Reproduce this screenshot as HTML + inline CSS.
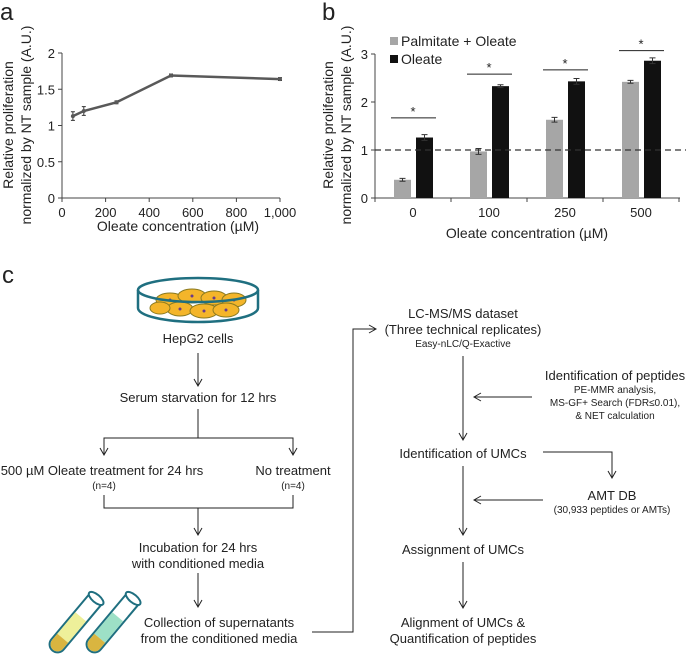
<!DOCTYPE html>
<html><head><meta charset="utf-8">
<style>
html,body{margin:0;padding:0;background:#fff;}
svg{display:block;font-family:"Liberation Sans",Arial,sans-serif;}
</style></head>
<body>
<svg id="fig" width="686" height="660" viewBox="0 0 686 660">
<g>
  <text x="0" y="20" font-size="24" fill="#222">a</text>
  <text transform="translate(13,125) rotate(-90)" text-anchor="middle" font-size="14" fill="#222">Relative proliferation</text>
  <text transform="translate(31,125) rotate(-90)" text-anchor="middle" font-size="14" fill="#222">normalized by NT sample (A.U.)</text>
  <text x="178" y="231" text-anchor="middle" font-size="14" fill="#222">Oleate concentration (µM)</text>
  <g id="chartA"></g>
</g>
<g>
  <text x="322" y="20" font-size="24" fill="#222">b</text>
  <text transform="translate(333,125) rotate(-90)" text-anchor="middle" font-size="14" fill="#222">Relative proliferation</text>
  <text transform="translate(351,125) rotate(-90)" text-anchor="middle" font-size="14" fill="#222">normalized by NT sample (A.U.)</text>
  <text x="527" y="238" text-anchor="middle" font-size="14" fill="#222">Oleate concentration (µM)</text>
  <rect x="390" y="37" width="8" height="8" fill="#a6a6a6"/>
  <text x="401" y="46" font-size="14" fill="#222">Palmitate + Oleate</text>
  <rect x="390" y="55" width="8" height="8" fill="#111"/>
  <text x="401" y="64" font-size="14" fill="#222">Oleate</text>
  <g id="chartB"></g>
</g>
<g font-size="13" fill="#222" stroke="none">
  <defs>
    <marker id="ah" markerWidth="10" markerHeight="10" refX="8" refY="5" orient="auto" markerUnits="userSpaceOnUse">
      <path d="M1,1 L8,5 L1,9" fill="none" stroke="#222" stroke-width="1"/>
    </marker>
  </defs>
  <text x="2" y="283" font-size="24">c</text>
  <g>
    <path d="M138,290 L138,308 A60,14 0 0 0 258,308 L258,290" fill="#fff" stroke="#1f6f80" stroke-width="2.5"/>
    <g stroke="#8a7a20" stroke-width="1" fill="#f4b52a">
      <ellipse cx="170" cy="300" rx="14" ry="7"/><ellipse cx="192" cy="296" rx="14" ry="7"/>
      <ellipse cx="214" cy="298" rx="13" ry="7"/><ellipse cx="234" cy="300" rx="12" ry="7"/>
      <ellipse cx="180" cy="309" rx="13" ry="7"/><ellipse cx="204" cy="311" rx="14" ry="7"/>
      <ellipse cx="226" cy="310" rx="13" ry="7"/><ellipse cx="160" cy="308" rx="10" ry="6"/>
    </g>
    <g fill="#6a3a8a">
      <circle cx="170" cy="300" r="1.5"/><circle cx="192" cy="296" r="1.5"/><circle cx="214" cy="298" r="1.5"/>
      <circle cx="234" cy="300" r="1.5"/><circle cx="180" cy="309" r="1.5"/><circle cx="204" cy="311" r="1.5"/><circle cx="226" cy="310" r="1.5"/>
    </g>
    <ellipse cx="198" cy="290" rx="60" ry="12" fill="none" stroke="#1f6f80" stroke-width="2.5"/>
  </g>
  <text x="198" y="343" text-anchor="middle">HepG2 cells</text>
  <g stroke="#222" stroke-width="1" fill="none">
    <line x1="198" y1="353" x2="198" y2="386" marker-end="url(#ah)"/>
    <polyline points="198,409 198,438"/>
    <polyline points="104,455 104,438 293,438 293,455"/>
    <line x1="104" y1="445" x2="104" y2="455" marker-end="url(#ah)"/>
    <line x1="293" y1="445" x2="293" y2="455" marker-end="url(#ah)"/>
    <polyline points="104,495 104,508 293,508 293,495"/>
    <line x1="198" y1="508" x2="198" y2="535" marker-end="url(#ah)"/>
    <line x1="198" y1="573" x2="198" y2="607" marker-end="url(#ah)"/>
    <polyline points="312,632 353,632 353,329 376,329" marker-end="url(#ah)"/>
    <line x1="463" y1="356" x2="463" y2="440" marker-end="url(#ah)"/>
    <line x1="532" y1="397" x2="474" y2="397" marker-end="url(#ah)"/>
    <line x1="463" y1="466" x2="463" y2="535" marker-end="url(#ah)"/>
    <polyline points="543,452 612,452 612,478" marker-end="url(#ah)"/>
    <line x1="543" y1="500" x2="474" y2="500" marker-end="url(#ah)"/>
    <line x1="463" y1="562" x2="463" y2="608" marker-end="url(#ah)"/>
  </g>
  <text x="198" y="402" text-anchor="middle">Serum starvation for 12 hrs</text>
  <text x="102" y="475" text-anchor="middle">500 µM Oleate treatment for 24 hrs</text>
  <text x="104" y="489" text-anchor="middle" font-size="10">(n=4)</text>
  <text x="293" y="475" text-anchor="middle">No treatment</text>
  <text x="293" y="489" text-anchor="middle" font-size="10">(n=4)</text>
  <text x="198" y="552" text-anchor="middle">Incubation for 24 hrs</text>
  <text x="198" y="568" text-anchor="middle">with conditioned media</text>
  <text x="219" y="627" text-anchor="middle">Collection of supernatants</text>
  <text x="219" y="643" text-anchor="middle">from the conditioned media</text>
  <g>
    <g transform="translate(73,626) rotate(40)">
      <path d="M-8,-36 L-8,24 A8,8 0 0 0 8,24 L8,-36 Z" fill="#fff" stroke="#1f6f80" stroke-width="2"/>
      <path d="M-7,-12 L7,-12 L7,16 L-7,16 Z" fill="#eef09a"/>
      <path d="M-7,16 L7,16 L7,24 A7,7 0 0 1 -7,24 Z" fill="#d9b540"/>
      <ellipse cx="0" cy="-36" rx="9" ry="4" fill="#fff" stroke="#1f6f80" stroke-width="2"/>
    </g>
    <g transform="translate(110,626) rotate(40)">
      <path d="M-8,-36 L-8,24 A8,8 0 0 0 8,24 L8,-36 Z" fill="#fff" stroke="#1f6f80" stroke-width="2"/>
      <path d="M-7,-12 L7,-12 L7,16 L-7,16 Z" fill="#9de0c6"/>
      <path d="M-7,16 L7,16 L7,24 A7,7 0 0 1 -7,24 Z" fill="#d9b540"/>
      <ellipse cx="0" cy="-36" rx="9" ry="4" fill="#fff" stroke="#1f6f80" stroke-width="2"/>
    </g>
  </g>
  <text x="463" y="318" text-anchor="middle">LC-MS/MS dataset</text>
  <text x="463" y="334" text-anchor="middle">(Three technical replicates)</text>
  <text x="463" y="347" text-anchor="middle" font-size="10">Easy-nLC/Q-Exactive</text>
  <text x="615" y="380" text-anchor="middle">Identification of peptides</text>
  <text x="615" y="393" text-anchor="middle" font-size="10">PE-MMR analysis,</text>
  <text x="615" y="406" text-anchor="middle" font-size="10">MS-GF+ Search (FDR≤0.01),</text>
  <text x="615" y="419" text-anchor="middle" font-size="10">&amp; NET calculation</text>
  <text x="463" y="458" text-anchor="middle">Identification of UMCs</text>
  <text x="612" y="500" text-anchor="middle">AMT DB</text>
  <text x="612" y="513" text-anchor="middle" font-size="10">(30,933 peptides or AMTs)</text>
  <text x="463" y="554" text-anchor="middle">Assignment of UMCs</text>
  <text x="463" y="627" text-anchor="middle">Alignment of UMCs &amp;</text>
  <text x="463" y="643" text-anchor="middle">Quantification of peptides</text>
</g>
</svg>
<script>
// Panel a data
const aConc = [50, 100, 250, 500, 1000];
const aValues = [1.13, 1.20, 1.32, 1.69, 1.64];
const aErrors = [0.06, 0.06, 0.02, 0.02, 0.02];
const aYTicks = [0, 0.5, 1, 1.5, 2];
const aYTickLabels = ["0", "0.5", "1", "1.5", "2"];
const aXTicks = [0, 200, 400, 600, 800, 1000];
const aXTickLabels = ["0", "200", "400", "600", "800", "1,000"];
// Panel b data
const bCategories = ["0", "100", "250", "500"];
const bPalmitateOleate = [0.38, 0.97, 1.63, 2.42];
const bPalmitateOleateErr = [0.03, 0.06, 0.05, 0.03];
const bOleate = [1.26, 2.33, 2.43, 2.86];
const bOleateErr = [0.06, 0.03, 0.06, 0.06];
const bSigLevels = [1.67, 2.58, 2.67, 3.07];
const bYTicks = [0, 1, 2, 3];
const bYTickLabels = ["0", "1", "2", "3"];
const bReference = 1;

const NS = "http://www.w3.org/2000/svg";
function mk(parent, tag, attrs, text) {
  const e = document.createElementNS(NS, tag);
  for (const k in attrs) e.setAttribute(k, attrs[k]);
  if (text !== undefined) e.textContent = text;
  parent.appendChild(e);
  return e;
}

// ---- Panel a ----
(function () {
  const g = document.getElementById("chartA");
  const x = v => 62 + (v / 1000) * 218;
  const y = v => 198 - (v / 2) * 145;
  let e;
  e = mk(g, "line", { x1: 62, y1: y(2), x2: 62, y2: y(0), stroke: "#444", "stroke-width": 1 });
  
  
  e = mk(g, "line", { x1: 62, y1: y(0), x2: x(1000), y2: y(0), stroke: "#444", "stroke-width": 1 });
  
  
  aYTicks.forEach((t, i) => {
    mk(g, "line", { x1: 58, y1: y(t), x2: 62, y2: y(t), stroke: "#444" });
    e = mk(g, "text", { x: 55, y: y(t) + 5, "text-anchor": "end", "font-size": 13, fill: "#222" }, aYTickLabels[i]);
    
    
  });
  aXTicks.forEach((t, i) => {
    mk(g, "line", { x1: x(t), y1: y(0), x2: x(t), y2: y(0) + 4, stroke: "#444" });
    e = mk(g, "text", { x: x(t), y: 217, "text-anchor": "middle", "font-size": 13, fill: "#222" }, aXTickLabels[i]);
    
    
  });
  const pts = aConc.map((c, i) => x(c) + "," + y(aValues[i])).join(" ");
  e = mk(g, "polyline", { points: pts, fill: "none", stroke: "#595959", "stroke-width": 2.5 });
  
  
  aConc.forEach((c, i) => {
    const cx = x(c), t = y(aValues[i] + aErrors[i]), b = y(aValues[i] - aErrors[i]);
    mk(g, "path", { d: `M${cx},${t}V${b}M${cx-2},${t}H${cx+2}M${cx-2},${b}H${cx+2}`, stroke: "#333", fill: "none" });
    e = mk(g, "circle", { cx: cx, cy: y(aValues[i]), r: 2, fill: "#595959" });
    
    
  });
})();

// ---- Panel b ----
(function () {
  const g = document.getElementById("chartB");
  const x0 = 375, step = 76, first = 413, bw = 17;
  const cx = i => first + i * step;
  const y = v => 198 - v * 48;
  let e;
  e = mk(g, "line", { x1: x0, y1: y(3), x2: x0, y2: y(0), stroke: "#444" });
  
  
  e = mk(g, "line", { x1: x0, y1: y(0), x2: 680, y2: y(0), stroke: "#444" });
  
  
  bYTicks.forEach((t, i) => {
    mk(g, "line", { x1: x0 - 4, y1: y(t), x2: x0, y2: y(t), stroke: "#444" });
    e = mk(g, "text", { x: x0 - 7, y: y(t) + 5, "text-anchor": "end", "font-size": 13, fill: "#222" }, bYTickLabels[i]);
    
    
  });
  for (let i = 0; i <= bCategories.length; i++) {
    const tx = x0 + i * step;
    mk(g, "line", { x1: tx, y1: y(0), x2: tx, y2: y(0) + 4, stroke: "#444" });
  }
  bCategories.forEach((c, i) => {
    e = mk(g, "text", { x: cx(i), y: 217, "text-anchor": "middle", "font-size": 13, fill: "#222" }, c);
    
    
    const gx = cx(i) - 19, ox = cx(i) + 3;
    e = mk(g, "rect", { x: gx, y: y(bPalmitateOleate[i]), width: bw, height: y(0) - y(bPalmitateOleate[i]), fill: "#a6a6a6" });
    
    
    e = mk(g, "rect", { x: ox, y: y(bOleate[i]), width: bw, height: y(0) - y(bOleate[i]), fill: "#111" });
    
    
    [[gx, bPalmitateOleate[i], bPalmitateOleateErr[i]], [ox, bOleate[i], bOleateErr[i]]].forEach(([bx, v, er]) => {
      const m = bx + bw / 2, t = y(v + er), b = y(v - er);
      mk(g, "path", { d: `M${m},${t}V${b}M${m-3},${t}H${m+3}M${m-3},${b}H${m+3}`, stroke: "#333", fill: "none" });
    });
    const sy = y(bSigLevels[i]);
    e = mk(g, "line", { x1: gx - 3, y1: sy, x2: ox + bw + 3, y2: sy, stroke: "#222" });
    
    
    e = mk(g, "text", { x: cx(i), y: sy - 2, "text-anchor": "middle", "font-size": 13, fill: "#222" }, "*");
    
    
  });
  e = mk(g, "line", { x1: x0, y1: y(bReference), x2: 686, y2: y(bReference), stroke: "#333", "stroke-dasharray": "6,4", "stroke-width": 1.2 });
  
  
})();
</script>
</body></html>
